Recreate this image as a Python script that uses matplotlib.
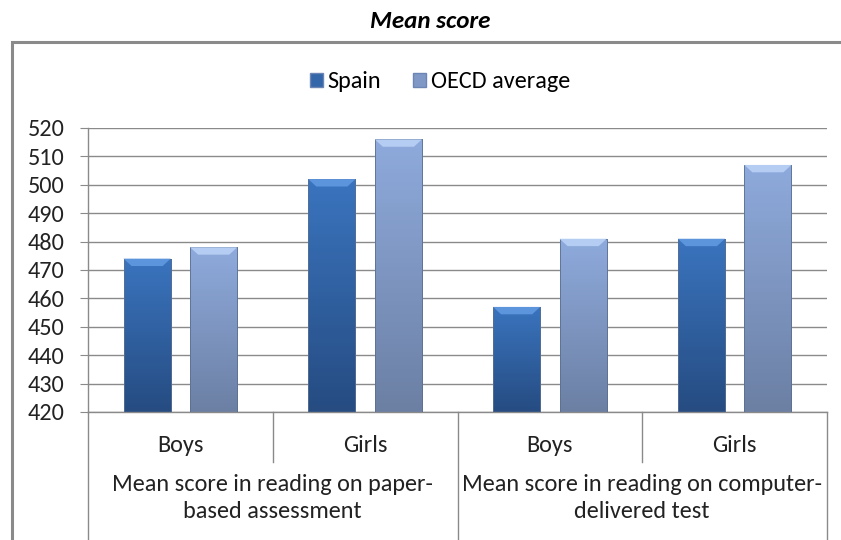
import numpy as np
import matplotlib.pyplot as plt
from matplotlib.patches import Rectangle, Polygon, Patch
from matplotlib.colors import LinearSegmentedColormap

# data
groups = ['Mean score in reading on paper-\nbased assessment',
          'Mean score in reading on computer-\ndelivered test']
genders = ['Boys', 'Girls', 'Boys', 'Girls']
spain = [474, 502, 457, 481]
oecd = [478, 516, 481, 507]
series = ['Spain', 'OECD average']
yticks = list(range(420, 521, 10))

font = ['Carlito', 'IBM Plex Sans Condensed', 'DejaVu Sans']
plt.rcParams['font.family'] = font
FS = 17.5

W, H = 841, 540
fig = plt.figure(figsize=(W / 100, H / 100), dpi=100)
fig.patch.set_facecolor('white')

# outer chart frame (right and bottom run off the picture)
fig.patches.append(Rectangle((12 / W, -0.2), 1.2, 1.2 - 42 / H,
                             transform=fig.transFigure, fill=False,
                             edgecolor='#8a8a8a', lw=2.2, zorder=0))

fig.text(430 / W, 1 - 22 / H, 'Mean score', ha='center', va='center',
         fontsize=18, fontweight='bold', fontstyle='italic')

ax = fig.add_axes([88 / W, 1 - 412 / H, (827 - 88) / W, (412 - 128) / H])
for s in ['top', 'right', 'bottom']:
    ax.spines[s].set_visible(False)
ax.spines['left'].set_color('#8a8a8a')
ax.spines['left'].set_linewidth(1.0)
ax.set_yticks(yticks)
ax.set_yticklabels([str(v) for v in yticks], fontsize=FS, color='#222222')
ax.tick_params(axis='y', length=6, color='#8a8a8a', pad=11)
ax.set_xticks([])
ax.grid(axis='y', color='#8a8a8a', lw=1.0)
ax.set_axisbelow(True)

x = np.arange(4) + 0.5
bw = 0.255
off = 0.18

cm_spain = LinearSegmentedColormap.from_list('s', ['#264c82', '#3a74be'])
cm_oecd = LinearSegmentedColormap.from_list('o', ['#6c80a4', '#8eaadc'])
grad = np.linspace(0, 1, 64).reshape(-1, 1)

def draw(xs, vals, cmap, top_col):
    bars = ax.bar(xs, [v - 420 for v in vals], bw, bottom=420,
                  color='none', edgecolor='#5a6f90', lw=0.6, zorder=3)
    for b in bars:
        x0, y0 = b.get_x(), b.get_y()
        w, h = b.get_width(), b.get_height()
        im = ax.imshow(grad, cmap=cmap, aspect='auto', origin='lower',
                       extent=[x0, x0 + w, y0, y0 + h], zorder=2)
        im.set_clip_path(b)
        # bevel highlight at top of bar
        d = 2.6
        dx = w * 0.17
        ax.add_patch(Polygon([[x0, y0 + h], [x0 + w, y0 + h],
                              [x0 + w - dx, y0 + h - d], [x0 + dx, y0 + h - d]],
                             closed=True, color=top_col, lw=0, zorder=4))
    return bars

draw(x - off, spain, cm_spain, '#5d95dd')
draw(x + off, oecd, cm_oecd, '#b5cdf2')
ax.set_xlim(0, 4)
ax.set_ylim(420, 520)

# category axis: x line, separators and labels
tr = ax.get_xaxis_transform()
gcol = '#8a8a8a'
ph = 412 - 128
ax.plot([0, 4], [0, 0], transform=tr, color=gcol, lw=1.0, clip_on=False)
for xb in [1, 3]:
    ax.plot([xb, xb], [0, -(462 - 412) / ph], transform=tr, color=gcol,
            lw=1.0, clip_on=False)
for xb in [0, 2, 4]:
    ax.plot([xb, xb], [0, -(545 - 412) / ph], transform=tr, color=gcol,
            lw=1.0, clip_on=False)
for xi, g in zip(x, genders):
    ax.text(xi, -(445 - 412) / ph, g, transform=tr, ha='center',
            va='center', fontsize=FS, color='#222222')
for i, g in enumerate(groups):
    ax.text(2 * i + 1, -(498 - 412) / ph, g, transform=tr, ha='center',
            va='center', fontsize=FS, color='#222222', linespacing=1.3)

# legend
handles = [Patch(facecolor='#3466aa', edgecolor='#6b86b4', label=series[0]),
           Patch(facecolor='#8098c6', edgecolor='#6b86b4', label=series[1])]
fig.legend(handles=handles, loc='center', bbox_to_anchor=(440 / W, 1 - 82 / H),
           ncol=2, frameon=False, fontsize=FS, handlelength=0.55, handleheight=0.55,
           handletextpad=0.2, columnspacing=1.3)

fig.savefig('out.png', dpi=100)
